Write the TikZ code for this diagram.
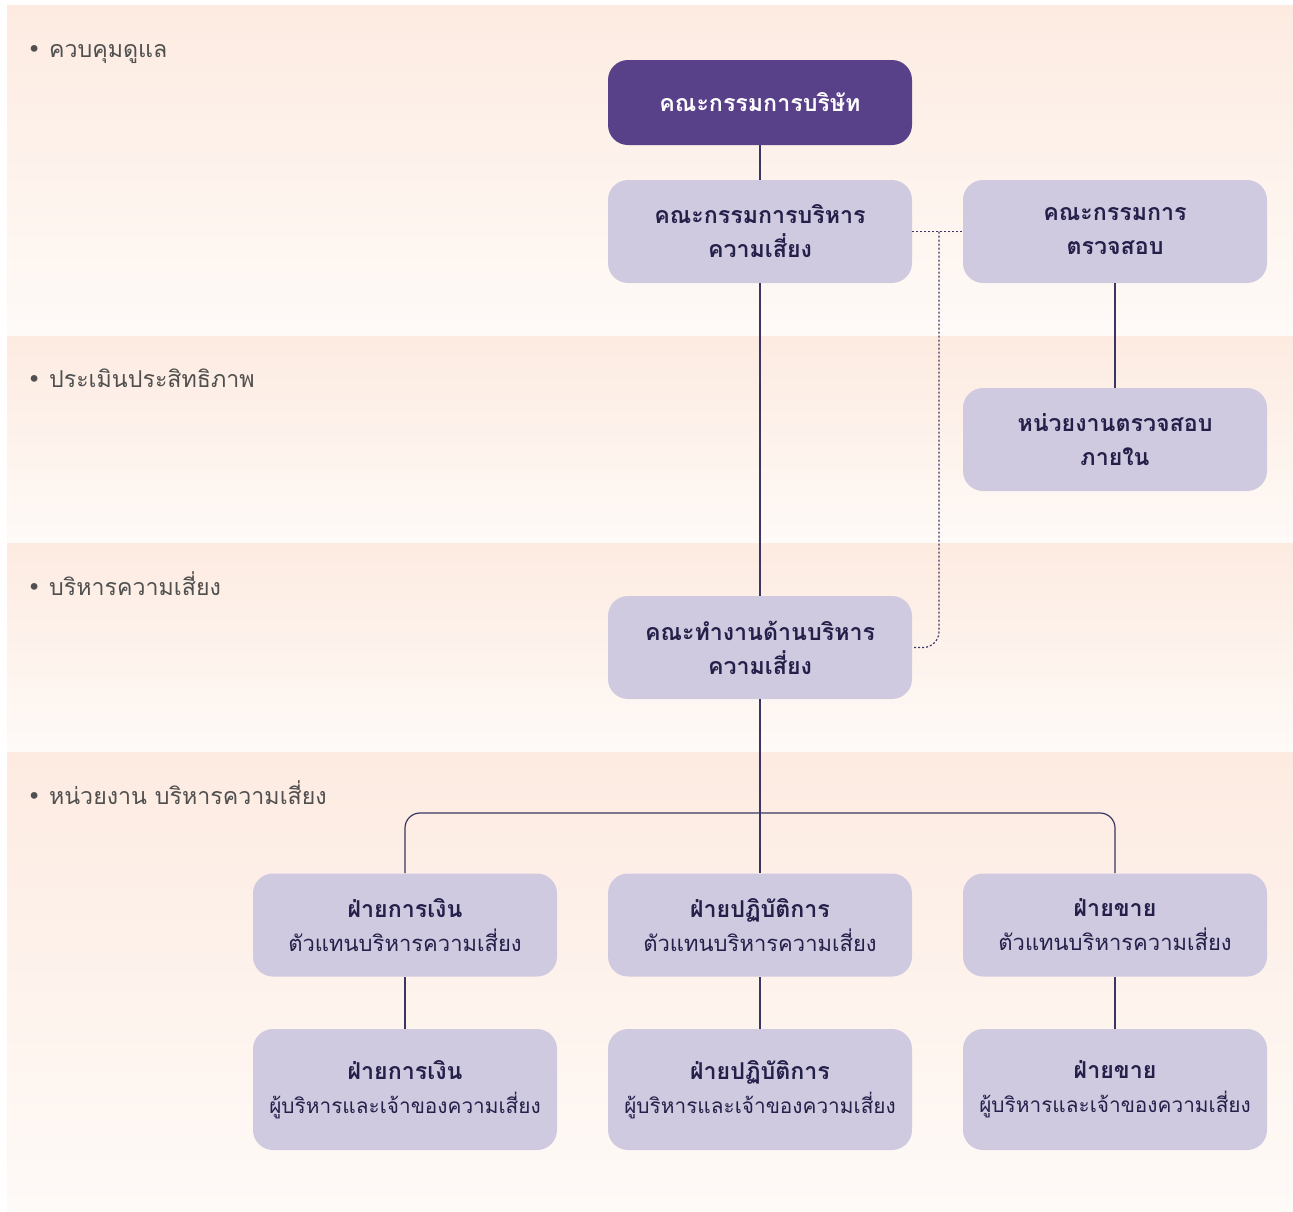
\documentclass[tikz,border=0pt]{standalone}
\usepackage{fontspec}
\setmainfont[Script=Thai]{Loma}
\newfontfamily\bulletfont{DejaVu Sans}
\definecolor{bandtop}{HTML}{FDEBE1}
\definecolor{bandbottom}{HTML}{FEFAF7}
\definecolor{boxfill}{HTML}{D0CAE0}
\definecolor{boardfill}{HTML}{59418A}
\definecolor{boxtext}{HTML}{24204A}
\definecolor{linecol}{HTML}{3A3562}
\definecolor{leveltext}{HTML}{505050}
\begin{document}
\begin{tikzpicture}
[x=0.5pt,y=-0.5pt,
  banddecorate/.style={top color=bandtop,bottom color=bandbottom,draw=none},
  leveldecorate/.style={anchor=base west,inner sep=0pt,text=leveltext,font=\fontsize{11.6}{17}\selectfont},
  boxdecorate/.style={shape=rectangle,rounded corners=10pt,fill=boxfill,text=boxtext,
    minimum width=152pt,minimum height=51.5pt,inner sep=0pt,align=center,
    font=\fontsize{11.6}{17}\selectfont\bfseries},
  boarddecorate/.style={boxdecorate,fill=boardfill,text=white,minimum height=42.5pt},
  unitdecorate/.style={boxdecorate,font=\fontsize{11}{17}\selectfont},
  ownerdecorate/.style={unitdecorate,minimum height=60.5pt,font=\fontsize{10.4}{17}\selectfont},
  linedecorate/.style={-,draw=linecol,line width=0.6pt},
  dotdecorate/.style={-,draw=linecol,line width=0.6pt,dash pattern=on 1pt off 1pt}]
\useasboundingbox (0,0) rectangle (1293,1211);
% bands
\shade[banddecorate] (7,5) rectangle (1293,336);
\shade[banddecorate] (7,336) rectangle (1293,543);
\shade[banddecorate] (7,543) rectangle (1293,752);
\shade[banddecorate] (7,752) rectangle (1293,1211);
\node (govern) at (27,57) [leveldecorate] {{\bulletfont•}\hspace{4pt}ควบคุมดูแล};
\node (assess) at (27,387) [leveldecorate] {{\bulletfont•}\hspace{4pt}ประเมินประสิทธิภาพ};
\node (manage) at (27,595) [leveldecorate] {{\bulletfont•}\hspace{4pt}บริหารความเสี่ยง};
\node (units) at (27,804) [leveldecorate] {{\bulletfont•}\hspace{4pt}หน่วยงาน บริหารความเสี่ยง};
% nodes or vertices
\node (board) at (760,102.5) [boarddecorate] {คณะกรรมการบริษัท};
\node (riskcom) at (760,231.5) [boxdecorate] {คณะกรรมการบริหาร\\ความเสี่ยง};
\node (audit) at (1115,231.5) [boxdecorate] {คณะกรรมการ\\ตรวจสอบ};
\node (intaudit) at (1115,439.5) [boxdecorate] {หน่วยงานตรวจสอบ\\ภายใน};
\node (riskwork) at (760,647.5) [boxdecorate] {คณะทำงานด้านบริหาร\\ความเสี่ยง};
\node (fin1) at (405,925) [unitdecorate] {\fontsize{11.6}{17}\selectfont\textbf{ฝ่ายการเงิน}\\ตัวแทนบริหารความเสี่ยง};
\node (ops1) at (760,925) [unitdecorate] {\fontsize{11.6}{17}\selectfont\textbf{ฝ่ายปฏิบัติการ}\\ตัวแทนบริหารความเสี่ยง};
\node (sales1) at (1115,925) [unitdecorate] {\fontsize{11.6}{17}\selectfont\textbf{ฝ่ายขาย}\\ตัวแทนบริหารความเสี่ยง};
\node (fin2) at (405,1089.5) [ownerdecorate] {\fontsize{11.6}{17}\selectfont\textbf{ฝ่ายการเงิน}\\ผู้บริหารและเจ้าของความเสี่ยง};
\node (ops2) at (760,1089.5) [ownerdecorate] {\fontsize{11.6}{17}\selectfont\textbf{ฝ่ายปฏิบัติการ}\\ผู้บริหารและเจ้าของความเสี่ยง};
\node (sales2) at (1115,1089.5) [ownerdecorate] {\fontsize{11.6}{17}\selectfont\textbf{ฝ่ายขาย}\\ผู้บริหารและเจ้าของความเสี่ยง};
\coordinate (bus) at (760,813);
\coordinate (dotjoin) at (939,231.5);
% edges or lines
\path
(board) edge[linedecorate] (riskcom)
(riskcom) edge[linedecorate] (riskwork)
(riskwork) edge[linedecorate] (ops1)
(audit) edge[linedecorate] (intaudit)
(fin1) edge[linedecorate] (fin2)
(ops1) edge[linedecorate] (ops2)
(sales1) edge[linedecorate] (sales2)
(riskcom) edge[dotdecorate] (audit);
\draw[linedecorate,rounded corners=7.5pt] (fin1.north) |- (bus) -| (sales1.north);
\draw[dotdecorate,rounded corners=8pt] (dotjoin) |- (riskwork.east);
\end{tikzpicture}
\end{document}
